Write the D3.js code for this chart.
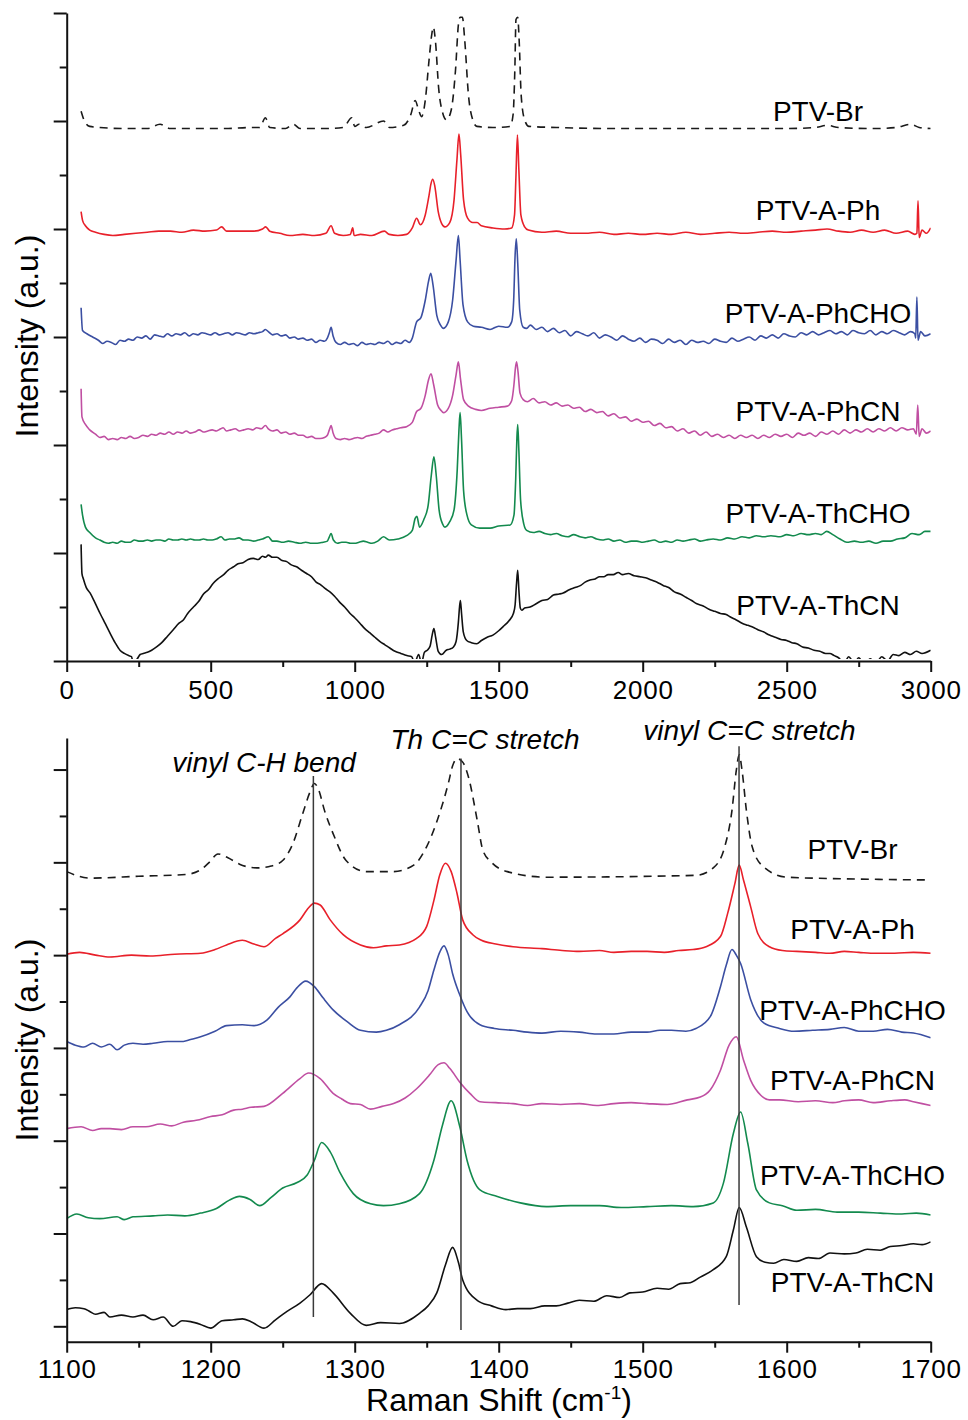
<!DOCTYPE html>
<html>
<head>
<meta charset="utf-8">
<script src="https://cdn.jsdelivr.net/npm/d3@7"></script>
<style>
  body { margin: 0; background: #fff; }
  svg { display: block; }
</style>
</head>
<body>
<svg id="chart" width="968" height="1420"></svg>
<script>
// ---------- Raman spectra, full range (shift in cm-1, stacked intensity in a.u.) ----------
const fullPTVBr = [[50,5.09],[60,5.01],[80,4.95],[115,4.94],[200,4.93],[280,4.93],[324,4.97],[360,4.93],[450,4.93],[550,4.93],[640,4.94],[670,4.94],[690,5.03],[705,4.94],[760,4.93],[787,4.97],[810,4.93],[900,4.93],[960,4.94],[990,5.03],[1000,4.95],[1015,4.97],[1040,4.94],[1100,5.00],[1120,4.94],[1170,4.96],[1195,5.06],[1210,5.19],[1222,5.10],[1232,5.04],[1245,5.19],[1258,5.56],[1268,5.81],[1273,5.87],[1280,5.75],[1292,5.29],[1305,5.08],[1319,5.01],[1335,5.10],[1350,5.47],[1360,5.89],[1366,5.96],[1374,5.96],[1382,5.75],[1395,5.24],[1410,5.01],[1424,4.95],[1480,4.94],[1540,4.95],[1550,5.06],[1556,5.47],[1560,5.94],[1566,5.96],[1571,5.75],[1578,5.24],[1590,5.01],[1605,4.95],[1700,4.94],[1900,4.93],[2100,4.93],[2300,4.93],[2500,4.93],[2600,4.94],[2640,4.96],[2680,4.94],[2800,4.93],[2880,4.94],[2930,4.97],[2960,4.94],[3000,4.93]];

const fullPh = [[50,4.16],[55,4.08],[65,4.03],[80,3.99],[100,3.97],[130,3.95],[160,3.94],[200,3.95],[240,3.96],[280,3.97],[320,3.98],[360,3.98],[400,3.97],[440,3.99],[480,3.98],[520,3.99],[538,4.02],[555,3.98],[600,3.98],[650,3.98],[680,4.00],[691,4.02],[705,3.98],[740,3.96],[775,3.94],[820,3.95],[860,3.94],[900,3.96],[918,4.03],[930,3.96],[960,3.94],[985,3.95],[993,4.01],[998,3.94],[1020,3.95],[1060,3.94],[1103,3.98],[1120,3.95],[1150,3.94],[1180,3.95],[1200,4.01],[1215,4.10],[1228,4.04],[1245,4.13],[1258,4.31],[1265,4.42],[1271,4.46],[1278,4.40],[1290,4.16],[1302,4.05],[1313,4.02],[1330,4.06],[1345,4.27],[1355,4.64],[1362,4.88],[1368,4.69],[1378,4.27],[1392,4.10],[1410,4.06],[1425,4.06],[1440,4.03],[1480,4.01],[1520,4.00],[1545,4.01],[1555,4.13],[1560,4.50],[1565,4.87],[1570,4.55],[1577,4.13],[1590,4.02],[1603,3.99],[1650,3.97],[1700,3.98],[1750,3.96],[1800,3.96],[1850,3.97],[1900,3.95],[1950,3.96],[2000,3.95],[2050,3.96],[2100,3.95],[2150,3.97],[2200,3.95],[2250,3.96],[2300,3.97],[2350,3.96],[2400,3.97],[2450,3.98],[2500,3.97],[2550,3.98],[2600,3.99],[2640,4.00],[2680,3.98],[2720,3.97],[2760,3.99],[2800,3.97],[2840,3.99],[2880,3.96],[2920,3.98],[2945,3.95],[2952,3.96],[2956,4.26],[2960,3.92],[2970,3.99],[2985,3.96],[3000,4.01]];

const fullPhCHO = [[50,3.27],[55,3.06],[70,3.03],[90,3.00],[110,2.97],[125,2.94],[140,2.96],[155,2.95],[170,2.93],[185,2.97],[200,2.96],[215,2.98],[230,2.97],[245,3.00],[260,2.99],[275,3.01],[290,2.98],[305,3.02],[320,3.01],[335,3.00],[350,3.03],[365,3.01],[380,3.03],[395,3.02],[410,3.04],[425,3.01],[440,3.03],[455,3.02],[470,3.04],[485,3.03],[500,3.02],[515,3.04],[530,3.02],[545,3.03],[560,3.04],[575,3.02],[590,3.04],[605,3.03],[620,3.02],[635,3.04],[650,3.03],[665,3.04],[680,3.05],[690,3.07],[700,3.05],[715,3.02],[730,3.03],[745,3.01],[760,3.02],[775,2.99],[790,3.00],[805,2.98],[820,2.99],[835,2.97],[850,2.98],[865,2.95],[880,2.97],[895,2.96],[905,2.99],[912,3.04],[918,3.09],[925,3.01],[935,2.95],[950,2.93],[965,2.95],[980,2.93],[995,2.94],[1010,2.92],[1025,2.95],[1040,2.93],[1055,2.94],[1070,2.93],[1085,2.95],[1100,2.94],[1115,2.96],[1130,2.93],[1145,2.95],[1160,2.94],[1175,2.97],[1190,2.95],[1200,2.99],[1215,3.14],[1230,3.18],[1245,3.34],[1256,3.51],[1264,3.59],[1272,3.48],[1285,3.20],[1298,3.11],[1308,3.08],[1325,3.14],[1340,3.34],[1352,3.71],[1360,3.94],[1366,3.71],[1376,3.30],[1392,3.14],[1412,3.10],[1440,3.09],[1470,3.07],[1500,3.10],[1530,3.09],[1545,3.14],[1552,3.34],[1557,3.76],[1561,3.91],[1566,3.69],[1573,3.25],[1585,3.09],[1597,3.08],[1610,3.11],[1630,3.07],[1650,3.09],[1670,3.05],[1690,3.08],[1710,3.04],[1730,3.06],[1750,3.01],[1770,3.05],[1790,3.03],[1810,3.01],[1830,3.04],[1850,2.99],[1870,3.02],[1890,3.00],[1910,2.97],[1930,3.01],[1950,2.98],[1970,2.96],[1990,2.99],[2010,2.95],[2030,2.98],[2050,2.97],[2070,2.94],[2090,2.98],[2110,2.95],[2130,2.97],[2150,2.93],[2170,2.97],[2190,2.95],[2210,2.96],[2230,2.94],[2250,2.98],[2270,2.96],[2290,2.95],[2310,2.99],[2330,2.96],[2350,2.98],[2370,3.00],[2390,2.97],[2410,3.01],[2430,2.99],[2450,3.02],[2470,2.99],[2490,3.03],[2510,3.01],[2530,3.00],[2550,3.04],[2570,3.02],[2590,3.05],[2610,3.02],[2630,3.04],[2650,3.06],[2670,3.03],[2690,3.05],[2710,3.02],[2730,3.06],[2750,3.04],[2770,3.03],[2790,3.06],[2810,3.02],[2830,3.05],[2850,3.03],[2870,3.06],[2890,3.04],[2910,3.02],[2930,3.05],[2945,3.03],[2948,2.99],[2952,3.37],[2956,2.97],[2965,3.05],[2980,3.01],[3000,3.03]];

const fullPhCN = [[50,2.52],[53,2.26],[65,2.19],[80,2.14],[100,2.10],[115,2.07],[130,2.08],[145,2.05],[160,2.06],[175,2.05],[190,2.07],[205,2.06],[220,2.08],[235,2.06],[250,2.07],[265,2.09],[280,2.08],[295,2.10],[310,2.09],[325,2.11],[340,2.10],[355,2.12],[370,2.10],[385,2.12],[400,2.11],[415,2.13],[430,2.11],[445,2.12],[460,2.14],[475,2.12],[490,2.13],[505,2.14],[520,2.13],[535,2.15],[543,2.16],[555,2.13],[570,2.14],[585,2.15],[600,2.13],[615,2.14],[630,2.15],[645,2.14],[660,2.16],[675,2.15],[690,2.18],[700,2.15],[715,2.13],[730,2.14],[745,2.11],[760,2.12],[775,2.10],[790,2.11],[805,2.09],[820,2.09],[835,2.07],[850,2.08],[865,2.06],[880,2.06],[895,2.07],[905,2.09],[912,2.14],[918,2.18],[925,2.11],[935,2.06],[950,2.05],[965,2.06],[980,2.05],[995,2.06],[1010,2.07],[1025,2.06],[1040,2.08],[1055,2.09],[1070,2.10],[1085,2.11],[1100,2.14],[1115,2.12],[1130,2.14],[1145,2.15],[1160,2.16],[1180,2.17],[1200,2.21],[1215,2.31],[1230,2.34],[1245,2.46],[1256,2.60],[1265,2.66],[1274,2.56],[1288,2.37],[1300,2.32],[1308,2.30],[1325,2.34],[1340,2.46],[1352,2.65],[1360,2.77],[1367,2.62],[1378,2.42],[1395,2.36],[1420,2.33],[1440,2.32],[1470,2.34],[1500,2.35],[1530,2.36],[1545,2.41],[1553,2.56],[1558,2.71],[1562,2.77],[1567,2.68],[1574,2.48],[1585,2.42],[1600,2.40],[1620,2.43],[1640,2.39],[1660,2.40],[1680,2.37],[1700,2.39],[1720,2.36],[1740,2.37],[1760,2.34],[1780,2.35],[1800,2.31],[1820,2.33],[1840,2.30],[1860,2.31],[1880,2.27],[1900,2.29],[1920,2.25],[1940,2.26],[1960,2.22],[1980,2.24],[2000,2.21],[2020,2.22],[2040,2.18],[2060,2.20],[2080,2.16],[2100,2.17],[2120,2.13],[2140,2.15],[2160,2.11],[2180,2.13],[2200,2.09],[2220,2.12],[2240,2.08],[2260,2.10],[2280,2.07],[2300,2.09],[2320,2.06],[2340,2.09],[2360,2.07],[2380,2.09],[2400,2.06],[2420,2.09],[2440,2.07],[2460,2.10],[2480,2.08],[2500,2.10],[2520,2.07],[2540,2.11],[2560,2.09],[2580,2.11],[2600,2.08],[2620,2.12],[2640,2.10],[2660,2.13],[2680,2.10],[2700,2.14],[2720,2.11],[2740,2.14],[2760,2.12],[2780,2.15],[2800,2.12],[2820,2.15],[2840,2.13],[2860,2.16],[2880,2.13],[2900,2.16],[2920,2.14],[2940,2.15],[2950,2.10],[2955,2.37],[2960,2.08],[2970,2.15],[2985,2.11],[3000,2.13]];

const fullThCHO = [[50,1.45],[55,1.35],[65,1.24],[80,1.19],[100,1.14],[115,1.12],[130,1.10],[145,1.09],[160,1.10],[175,1.09],[190,1.11],[205,1.10],[220,1.10],[235,1.12],[250,1.11],[265,1.11],[280,1.12],[295,1.11],[310,1.12],[325,1.12],[340,1.11],[355,1.13],[370,1.12],[385,1.12],[400,1.13],[415,1.12],[430,1.13],[445,1.12],[460,1.12],[475,1.13],[490,1.12],[505,1.12],[520,1.13],[536,1.15],[550,1.12],[565,1.13],[580,1.13],[598,1.14],[615,1.12],[630,1.12],[650,1.11],[665,1.12],[680,1.13],[700,1.15],[715,1.11],[730,1.11],[750,1.10],[770,1.11],[790,1.10],[810,1.09],[830,1.10],[850,1.09],[870,1.09],[890,1.10],[905,1.11],[912,1.15],[918,1.18],[926,1.12],[940,1.09],[955,1.10],[970,1.10],[985,1.09],[1000,1.09],[1015,1.10],[1030,1.11],[1045,1.10],[1060,1.09],[1080,1.11],[1100,1.15],[1120,1.12],[1150,1.13],[1180,1.16],[1200,1.21],[1210,1.32],[1216,1.34],[1225,1.24],[1240,1.31],[1255,1.44],[1266,1.72],[1275,1.89],[1283,1.72],[1293,1.40],[1305,1.27],[1313,1.24],[1330,1.29],[1345,1.40],[1356,1.77],[1362,2.14],[1366,2.30],[1371,2.05],[1378,1.58],[1390,1.35],[1405,1.26],[1434,1.23],[1470,1.23],[1500,1.25],[1540,1.26],[1553,1.35],[1559,1.68],[1563,2.05],[1566,2.19],[1570,1.95],[1576,1.49],[1587,1.27],[1597,1.21],[1620,1.19],[1640,1.20],[1660,1.18],[1680,1.17],[1700,1.18],[1720,1.16],[1740,1.15],[1760,1.17],[1782,1.15],[1800,1.14],[1820,1.15],[1840,1.13],[1860,1.12],[1880,1.13],[1900,1.11],[1920,1.12],[1940,1.10],[1960,1.11],[1980,1.11],[2000,1.10],[2020,1.11],[2040,1.12],[2060,1.10],[2080,1.11],[2100,1.10],[2120,1.12],[2140,1.11],[2160,1.12],[2180,1.13],[2200,1.11],[2220,1.12],[2245,1.13],[2270,1.12],[2295,1.14],[2320,1.13],[2345,1.15],[2370,1.14],[2395,1.16],[2420,1.15],[2445,1.16],[2477,1.15],[2500,1.17],[2525,1.16],[2550,1.18],[2575,1.17],[2600,1.18],[2620,1.17],[2639,1.20],[2660,1.17],[2685,1.13],[2709,1.10],[2735,1.11],[2760,1.10],[2785,1.11],[2810,1.09],[2835,1.11],[2860,1.11],[2885,1.13],[2910,1.14],[2935,1.18],[2960,1.17],[2980,1.20],[3000,1.20]];

const fullThCN = [[50,1.08],[53,0.81],[58,0.76],[68,0.68],[81,0.63],[98,0.54],[116,0.44],[133,0.35],[150,0.26],[168,0.17],[185,0.10],[200,0.07],[215,0.05],[225,0.04],[231,-0.02],[245,0.02],[255,0.06],[266,0.07],[280,0.08],[295,0.10],[312,0.13],[330,0.17],[350,0.23],[370,0.29],[390,0.35],[405,0.38],[420,0.44],[440,0.50],[458,0.55],[475,0.62],[492,0.66],[509,0.72],[525,0.76],[545,0.80],[560,0.84],[578,0.87],[595,0.90],[612,0.91],[630,0.94],[648,0.95],[665,0.94],[680,0.97],[690,0.96],[700,0.98],[715,0.96],[730,0.96],[748,0.93],[764,0.92],[780,0.89],[800,0.87],[815,0.84],[833,0.81],[850,0.78],[866,0.73],[880,0.71],[898,0.67],[914,0.64],[930,0.60],[946,0.55],[965,0.50],[984,0.44],[1000,0.40],[1018,0.35],[1035,0.30],[1053,0.26],[1070,0.22],[1088,0.18],[1105,0.15],[1122,0.12],[1140,0.09],[1160,0.07],[1181,0.05],[1198,0.04],[1208,-0.02],[1222,0.06],[1232,-0.02],[1242,0.08],[1252,0.10],[1262,0.14],[1269,0.24],[1275,0.30],[1281,0.22],[1290,0.09],[1302,0.06],[1318,0.10],[1330,0.11],[1343,0.13],[1352,0.18],[1360,0.36],[1364,0.50],[1367,0.56],[1371,0.44],[1377,0.27],[1389,0.19],[1405,0.17],[1424,0.16],[1440,0.19],[1460,0.22],[1480,0.24],[1500,0.28],[1516,0.32],[1535,0.37],[1551,0.44],[1557,0.52],[1562,0.72],[1566,0.84],[1570,0.66],[1575,0.49],[1580,0.47],[1590,0.49],[1609,0.50],[1630,0.53],[1650,0.56],[1670,0.57],[1690,0.61],[1710,0.62],[1724,0.63],[1745,0.66],[1765,0.68],[1785,0.70],[1800,0.73],[1817,0.75],[1835,0.76],[1850,0.78],[1865,0.78],[1880,0.80],[1898,0.80],[1915,0.82],[1930,0.80],[1950,0.81],[1970,0.79],[1991,0.78],[2010,0.77],[2030,0.75],[2050,0.73],[2071,0.70],[2090,0.68],[2110,0.64],[2130,0.62],[2150,0.59],[2170,0.56],[2188,0.53],[2210,0.51],[2230,0.48],[2250,0.46],[2270,0.44],[2290,0.43],[2303,0.41],[2325,0.38],[2345,0.35],[2365,0.33],[2385,0.31],[2400,0.29],[2419,0.27],[2440,0.24],[2460,0.22],[2480,0.20],[2500,0.19],[2518,0.17],[2535,0.16],[2555,0.13],[2575,0.12],[2595,0.10],[2615,0.09],[2635,0.07],[2650,0.07],[2665,0.05],[2680,0.03],[2700,-0.02],[2715,0.04],[2735,-0.02],[2750,0.03],[2770,-0.03],[2790,0.02],[2810,-0.02],[2830,0.04],[2850,0.00],[2870,0.06],[2890,0.05],[2910,0.08],[2930,0.06],[2950,0.09],[2970,0.07],[3000,0.10]];

// ---------- Raman spectra, fingerprint region 1100-1700 cm-1 ----------
const zoomPTVBr = [[1100,4.90],[1116,4.83],[1150,4.85],[1183,4.87],[1193,4.92],[1199,5.00],[1205,5.09],[1212,5.05],[1220,4.98],[1232,4.94],[1242,4.96],[1250,5.02],[1257,5.20],[1264,5.53],[1269,5.76],[1272,5.85],[1275,5.78],[1279,5.56],[1285,5.31],[1294,5.02],[1308,4.90],[1327,4.90],[1341,4.97],[1350,5.17],[1359,5.53],[1365,5.85],[1368,6.04],[1371,6.12],[1375,6.08],[1379,5.92],[1385,5.46],[1389,5.13],[1395,5.00],[1406,4.90],[1433,4.84],[1537,4.86],[1549,4.94],[1557,5.17],[1562,5.56],[1565,5.99],[1567,6.16],[1569,5.99],[1572,5.56],[1576,5.17],[1584,4.95],[1600,4.84],[1650,4.82],[1700,4.81]];

const zoomPh = [[1100,4.01],[1109,4.03],[1120,4.00],[1130,3.98],[1145,4.00],[1158,3.99],[1175,4.01],[1193,4.02],[1203,4.06],[1211,4.11],[1222,4.16],[1230,4.12],[1237,4.09],[1245,4.18],[1250,4.23],[1262,4.38],[1268,4.51],[1272,4.56],[1276,4.54],[1283,4.38],[1292,4.22],[1304,4.11],[1313,4.08],[1322,4.10],[1331,4.11],[1343,4.18],[1350,4.31],[1355,4.59],[1359,4.86],[1363,4.99],[1367,4.90],[1371,4.67],[1375,4.38],[1382,4.22],[1388,4.16],[1398,4.12],[1410,4.09],[1430,4.07],[1444,4.05],[1456,4.04],[1470,4.05],[1480,4.03],[1492,4.04],[1503,4.04],[1515,4.03],[1525,4.05],[1535,4.06],[1544,4.09],[1554,4.20],[1559,4.45],[1564,4.77],[1567,4.97],[1570,4.81],[1575,4.52],[1580,4.23],[1588,4.09],[1597,4.05],[1607,4.04],[1620,4.03],[1630,4.02],[1640,4.04],[1650,4.03],[1662,4.02],[1675,4.02],[1688,4.03],[1700,4.02]];

const zoomPhCHO = [[1100,3.07],[1106,3.03],[1112,3.01],[1118,3.05],[1124,3.01],[1130,3.04],[1135,2.98],[1140,3.03],[1146,3.05],[1153,3.04],[1160,3.05],[1170,3.07],[1181,3.07],[1186,3.09],[1193,3.12],[1203,3.18],[1211,3.24],[1222,3.25],[1230,3.24],[1239,3.30],[1247,3.44],[1255,3.55],[1260,3.65],[1266,3.72],[1272,3.66],[1278,3.54],[1285,3.41],[1295,3.28],[1304,3.19],[1315,3.17],[1322,3.19],[1331,3.25],[1345,3.44],[1351,3.62],[1355,3.84],[1359,4.03],[1362,4.10],[1365,4.00],[1368,3.80],[1373,3.57],[1378,3.39],[1387,3.25],[1397,3.21],[1410,3.19],[1420,3.17],[1430,3.16],[1443,3.18],[1456,3.17],[1468,3.15],[1480,3.15],[1492,3.17],[1503,3.17],[1512,3.19],[1520,3.19],[1530,3.18],[1537,3.21],[1547,3.34],[1554,3.66],[1558,3.89],[1562,4.06],[1565,4.00],[1568,3.91],[1575,3.52],[1584,3.27],[1595,3.21],[1605,3.18],[1618,3.19],[1630,3.20],[1640,3.22],[1650,3.18],[1660,3.18],[1670,3.20],[1680,3.17],[1688,3.16],[1700,3.11]];

const zoomPhCN = [[1100,2.13],[1110,2.15],[1118,2.11],[1124,2.13],[1130,2.13],[1138,2.12],[1146,2.15],[1155,2.15],[1165,2.18],[1173,2.16],[1181,2.20],[1190,2.22],[1200,2.26],[1208,2.28],[1216,2.33],[1222,2.34],[1228,2.36],[1237,2.37],[1250,2.51],[1262,2.67],[1268,2.73],[1276,2.67],[1285,2.51],[1291,2.45],[1297,2.40],[1304,2.39],[1311,2.34],[1319,2.37],[1327,2.40],[1335,2.46],[1343,2.56],[1352,2.71],[1358,2.82],[1362,2.84],[1366,2.78],[1373,2.63],[1380,2.51],[1387,2.42],[1398,2.41],[1410,2.40],[1420,2.38],[1430,2.40],[1443,2.39],[1456,2.40],[1468,2.38],[1480,2.40],[1492,2.41],[1503,2.40],[1517,2.39],[1531,2.44],[1540,2.47],[1547,2.55],[1554,2.76],[1560,3.03],[1565,3.12],[1570,2.87],[1575,2.65],[1582,2.49],[1588,2.44],[1595,2.44],[1608,2.42],[1620,2.43],[1632,2.41],[1640,2.43],[1650,2.44],[1660,2.41],[1672,2.43],[1682,2.44],[1688,2.42],[1700,2.38]];

const zoomThCHO = [[1100,1.16],[1107,1.21],[1115,1.17],[1123,1.16],[1135,1.18],[1140,1.15],[1146,1.18],[1160,1.19],[1170,1.20],[1182,1.19],[1193,1.22],[1204,1.27],[1213,1.36],[1220,1.40],[1227,1.37],[1234,1.30],[1242,1.39],[1250,1.49],[1260,1.55],[1267,1.63],[1272,1.79],[1277,1.98],[1283,1.88],[1290,1.65],[1299,1.43],[1311,1.32],[1320,1.30],[1331,1.32],[1345,1.43],[1355,1.79],[1361,2.17],[1367,2.43],[1373,2.15],[1378,1.79],[1387,1.47],[1399,1.40],[1415,1.33],[1433,1.29],[1450,1.30],[1470,1.30],[1485,1.28],[1503,1.29],[1520,1.30],[1535,1.29],[1549,1.33],[1556,1.54],[1563,2.08],[1568,2.31],[1573,1.97],[1579,1.47],[1588,1.33],[1597,1.30],[1607,1.25],[1620,1.26],[1635,1.23],[1650,1.23],[1665,1.22],[1680,1.21],[1690,1.22],[1700,1.20]];

const zoomThCN = [[1100,0.18],[1106,0.20],[1112,0.19],[1116,0.16],[1120,0.13],[1126,0.15],[1130,0.10],[1138,0.12],[1146,0.10],[1153,0.12],[1160,0.07],[1167,0.10],[1174,0.00],[1180,0.06],[1186,0.05],[1193,0.02],[1200,-0.02],[1208,0.06],[1216,0.07],[1222,0.08],[1228,0.05],[1237,-0.02],[1245,0.07],[1253,0.16],[1262,0.25],[1269,0.34],[1277,0.46],[1285,0.36],[1297,0.14],[1308,0.01],[1318,0.04],[1331,0.03],[1345,0.14],[1351,0.22],[1357,0.36],[1363,0.66],[1368,0.85],[1372,0.69],[1375,0.50],[1385,0.28],[1395,0.22],[1405,0.18],[1413,0.19],[1422,0.19],[1432,0.22],[1440,0.22],[1448,0.25],[1456,0.28],[1466,0.27],[1475,0.33],[1484,0.31],[1491,0.36],[1500,0.37],[1510,0.41],[1518,0.40],[1526,0.46],[1533,0.47],[1540,0.53],[1549,0.61],[1558,0.75],[1563,1.04],[1567,1.28],[1572,1.07],[1579,0.75],[1585,0.69],[1591,0.68],[1598,0.72],[1607,0.70],[1615,0.74],[1622,0.73],[1630,0.79],[1640,0.78],[1648,0.79],[1656,0.83],[1665,0.82],[1672,0.86],[1680,0.87],[1688,0.89],[1694,0.88],[1700,0.91]];

// sample names and line styles (same order in both panels)
const sampleNames = ["PTV-Br", "PTV-A-Ph", "PTV-A-PhCHO", "PTV-A-PhCN", "PTV-A-ThCHO", "PTV-A-ThCN"];
const sampleColors = ["#1a1a1a", "#e8202a", "#3b4fa2", "#c04fa2", "#138a4e", "#111111"];
const sampleDash = ["8,6", null, null, null, null, null];

const fullSpectra = [fullPTVBr, fullPh, fullPhCHO, fullPhCN, fullThCHO, fullThCN];
const zoomSpectra = [zoomPTVBr, zoomPh, zoomPhCHO, zoomPhCN, zoomThCHO, zoomThCN];

// tick values
const fullXTicks = [0, 500, 1000, 1500, 2000, 2500, 3000];
const fullXMinor = [250, 750, 1250, 1750, 2250, 2750];
const zoomXTicks = [1100, 1200, 1300, 1400, 1500, 1600, 1700];
const zoomXMinor = [1150, 1250, 1350, 1450, 1550, 1650];
const yMajor = [0, 1, 2, 3, 4, 5, 6];
const yMinor = [0.5, 1.5, 2.5, 3.5, 4.5, 5.5];

// band assignments marked in the fingerprint panel
const bandNames = ["vinyl C-H bend", "Th C=C stretch", "vinyl C=C stretch"];
const bandShift = [1271.3, 1373.8, 1566.9];
const bandTop = [5.93, 6.12, 6.25];
const bandBottom = [0.10, -0.04, 0.23];

// ---------- drawing ----------
const FONT = "'Liberation Sans', Arial, Helvetica, sans-serif";
const svg = d3.select("#chart");

function drawPanel(cfg) {
  const x = d3.scaleLinear().domain(cfg.xDomain).range([66.7, 930.7]);
  const y = d3.scaleLinear().domain(cfg.yDomain).range(cfg.yRange);
  const g = svg.append("g");

  const clipId = cfg.id + "-clip";
  svg.append("defs").append("clipPath").attr("id", clipId)
    .append("rect")
    .attr("x", 66.7).attr("y", cfg.clipTop)
    .attr("width", 864).attr("height", cfg.clipBottom - cfg.clipTop);

  const line = d3.line().x(d => x(d[0])).y(d => y(d[1])).curve(d3.curveMonotoneX);

  const plot = g.append("g").attr("clip-path", `url(#${clipId})`);
  cfg.spectra.forEach((s, i) => {
    plot.append("path")
      .datum(s)
      .attr("d", line)
      .attr("fill", "none")
      .attr("stroke", sampleColors[i])
      .attr("stroke-width", 1.6)
      .attr("stroke-linejoin", "round")
      .attr("stroke-dasharray", sampleDash[i]);
  });

  // axes
  const axisY0 = y.range()[0];
  const xAxis = g.append("g").attr("transform", `translate(0,${axisY0})`)
    .call(d3.axisBottom(x).tickValues(cfg.xTicks).tickSize(11).tickSizeOuter(0).tickFormat(d3.format("d")));
  xAxis.selectAll("text")
    .attr("y", cfg.tickBaseline).attr("dy", 0)
    .style("font-family", FONT).style("font-size", "26px")
    .style("letter-spacing", "0.8px").attr("fill", "#000");
  g.append("g").attr("transform", `translate(0,${axisY0})`)
    .call(d3.axisBottom(x).tickValues(cfg.xMinor).tickSize(6).tickSizeOuter(0).tickFormat(""))
    .select(".domain").remove();

  g.append("g").attr("transform", "translate(66.7,0)")
    .call(d3.axisLeft(y).tickValues(yMajor).tickSize(13).tickSizeOuter(0).tickFormat(""));
  g.append("g").attr("transform", "translate(66.7,0)")
    .call(d3.axisLeft(y).tickValues(yMinor).tickSize(7).tickSizeOuter(0).tickFormat(""))
    .select(".domain").remove();

  g.selectAll(".domain, .tick line").attr("stroke", "#111").attr("stroke-width", 2);

  // y-axis title
  g.append("text")
    .attr("transform", `translate(38,${cfg.yTitleCenter}) rotate(-90)`)
    .attr("text-anchor", "middle")
    .style("font-family", FONT).style("font-size", "32px")
    .text("Intensity (a.u.)");

  // sample labels
  g.selectAll(".sample-label")
    .data(sampleNames)
    .enter().append("text")
    .attr("class", "sample-label")
    .attr("x", cfg.labelX)
    .attr("y", (d, i) => cfg.labelBaselines[i])
    .attr("text-anchor", "middle")
    .style("font-family", FONT).style("font-size", "28px")
    .text(d => d);

  return { x, y, g };
}

// full range panel
drawPanel({
  id: "full",
  xDomain: [0, 3000], yDomain: [0, 6], yRange: [661, 13],
  clipTop: 10, clipBottom: 659,
  spectra: fullSpectra,
  xTicks: fullXTicks, xMinor: fullXMinor,
  tickBaseline: 38,
  yTitleCenter: 336,
  labelX: 818,
  labelBaselines: [121, 220, 323, 421, 523, 615]
});

// fingerprint panel
const zp = drawPanel({
  id: "zoom",
  xDomain: [1100, 1700], yDomain: [-0.166, 6.34], yRange: [1341.7, 738],
  clipTop: 730, clipBottom: 1340,
  spectra: zoomSpectra,
  xTicks: zoomXTicks, xMinor: zoomXMinor,
  tickBaseline: 36.5,
  yTitleCenter: 1040,
  labelX: 852.5,
  labelBaselines: [859, 939, 1020, 1090, 1185, 1292]
});

// band guide lines
bandShift.forEach((s, i) => {
  zp.g.append("line")
    .attr("x1", zp.x(s)).attr("x2", zp.x(s))
    .attr("y1", zp.y(bandTop[i])).attr("y2", zp.y(bandBottom[i]))
    .attr("stroke", "#3a3a3a").attr("stroke-width", 1.5);
});

// band labels
const bandLabelPos = [[264, 771.7], [485, 749], [749.5, 740]];
bandNames.forEach((name, i) => {
  zp.g.append("text")
    .attr("x", bandLabelPos[i][0]).attr("y", bandLabelPos[i][1])
    .attr("text-anchor", "middle")
    .style("font-family", FONT).style("font-size", "28px").style("font-style", "italic")
    .text(name);
});

// x-axis title with superscript
const xt = svg.append("text")
  .attr("x", 499).attr("y", 1411)
  .attr("text-anchor", "middle")
  .style("font-family", FONT).style("font-size", "32px");
xt.append("tspan").text("Raman Shift (cm");
xt.append("tspan").attr("dy", -12).style("font-size", "19px").text("-1");
xt.append("tspan").attr("dy", 12).text(")");
</script>
</body>
</html>
